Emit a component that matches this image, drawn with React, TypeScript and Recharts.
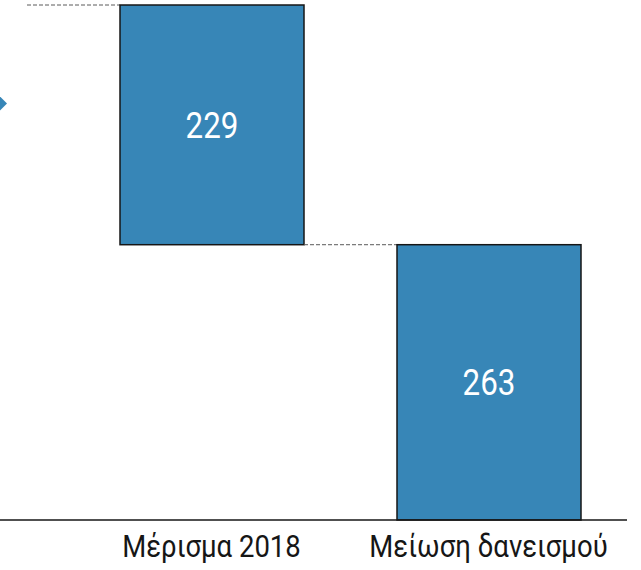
import React from "react";
import { BarChart, Bar, XAxis, YAxis, LabelList, ReferenceDot } from "recharts";

// waterfall: first entry is the opening total (drawn off to the left), then the decrements
const CATEGORIES = ["Σύνολο", "Μέρισμα 2018", "Μείωση δανεισμού"];
const AMOUNTS = [492, 229, 263];
const IS_TOTAL = [true, false, false];
const ARROW_LEVEL = 398;

const BLUE = "#3786b7";
const INK = "#161616";
const FONT = "Roboto, 'Noto Sans', sans-serif";

const CHART_W = 831;
const CHART_H = 570;
const BAND = CHART_W / CATEGORIES.length;
const BAR_SIZE = 184;

let running = 0;
const data = CATEGORIES.map((name, i) => {
  let base = 0;
  if (IS_TOTAL[i]) {
    running = AMOUNTS[i];
  } else {
    running -= AMOUNTS[i];
    base = running;
  }
  return { name, base, value: AMOUNTS[i], total: IS_TOTAL[i] };
});

// fake a condensed face by squeezing horizontally round x
const squeeze = (x: number, k: number) =>
  `translate(${x} 0) scale(${k} 1) translate(${-x} 0)`;

function StepShape(props: any) {
  const { x, y, width, height, index, payload } = props;
  const last = index === data.length - 1;
  // level the running total sits at after this step
  const level = payload.total ? y : y + height;
  return (
    <g>
      {index > 0 && (
        <rect
          x={x}
          y={y}
          width={width}
          height={height}
          fill={BLUE}
          stroke={INK}
          strokeWidth={1.5}
        />
      )}
      {!last && (
        <line
          x1={x + width}
          x2={x + BAND}
          y1={level}
          y2={level}
          stroke="#5a5a5a"
          strokeWidth={1}
          strokeDasharray="4 2"
        />
      )}
    </g>
  );
}

function ValueLabel(props: any) {
  const { x, y, width, height, value, index } = props;
  if (index === 0) return null;
  const cx = x + width / 2;
  return (
    <text
      x={cx}
      y={y + height / 2}
      dy={13}
      textAnchor="middle"
      transform={squeeze(cx, 0.87)}
      fill="#ffffff"
      fontSize={36}
      fontFamily={FONT}
    >
      {value}
    </text>
  );
}

function CategoryTick(props: any) {
  const { x, y, payload, index } = props;
  if (index === 0) return null;
  return (
    <text
      x={x}
      y={y}
      dy={29}
      textAnchor="middle"
      transform={squeeze(x, 0.86)}
      fill={INK}
      fontSize={32}
      fontFamily={FONT}
    >
      {payload.value}
    </text>
  );
}

function Arrow(props: any) {
  const { cx, cy } = props;
  const tip = cx + BAND / 2 - 66;
  return (
    <polygon
      points={`${tip - 22},${cy - 22} ${tip},${cy} ${tip - 22},${cy + 22}`}
      fill={BLUE}
    />
  );
}

export default function App() {
  return (
    <div
      style={{
        position: "fixed",
        left: 0,
        top: 0,
        width: 641,
        height: 570,
        overflow: "hidden",
        background: "#ffffff",
      }}
    >
      <div style={{ position: "absolute", left: -204, top: 0 }}>
        <BarChart
          width={CHART_W}
          height={CHART_H}
          data={data}
          margin={{ top: 5, right: 0, bottom: 0, left: 0 }}
          barSize={BAR_SIZE}
        >
          <XAxis
            dataKey="name"
            height={50}
            interval={0}
            tickLine={false}
            axisLine={{ stroke: INK, strokeWidth: 1.5 }}
            tick={<CategoryTick />}
          />
          <YAxis hide domain={[0, 492]} />
          <Bar dataKey="base" stackId="w" fill="transparent" isAnimationActive={false} />
          <Bar dataKey="value" stackId="w" shape={<StepShape />} isAnimationActive={false}>
            <LabelList dataKey="value" content={<ValueLabel />} />
          </Bar>
          <ReferenceDot
            x={CATEGORIES[0]}
            y={ARROW_LEVEL}
            r={0}
            shape={<Arrow />}
          />
        </BarChart>
      </div>
    </div>
  );
}
